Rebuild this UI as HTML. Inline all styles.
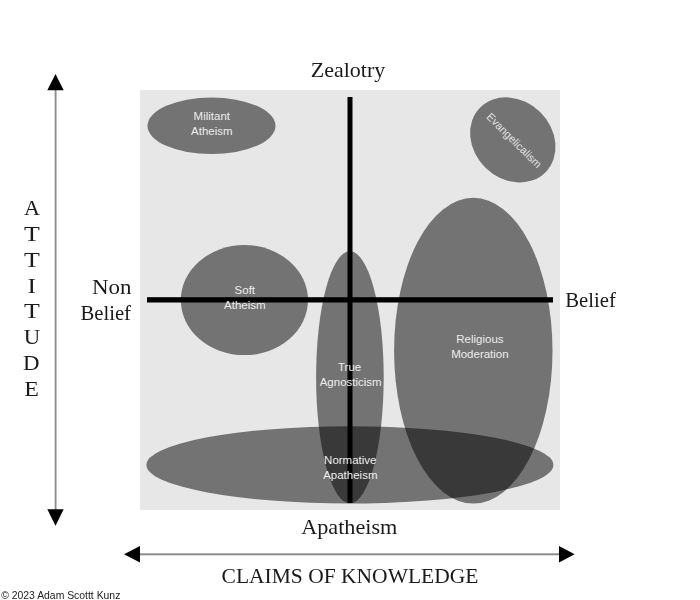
<!DOCTYPE html>
<html><head><meta charset="utf-8">
<style>
html,body{margin:0;padding:0;background:#fff;width:700px;height:600px;overflow:hidden}
svg{display:block;filter:grayscale(1)}
.serif{font-family:"Liberation Serif",serif;fill:#1a1a1a}
.lab{font-family:"Liberation Sans",sans-serif;fill:#ededed;font-size:11.5px;text-anchor:middle}
</style></head>
<body>
<svg width="700" height="600" viewBox="0 0 700 600">
<rect x="140" y="90" width="420" height="420" fill="#e7e7e7"/>
<rect x="147" y="297.2" width="406" height="5.3" fill="#000"/>
<rect x="347.5" y="97" width="5" height="406" fill="#000"/>
<g fill="#000" fill-opacity="0.5">
<ellipse cx="211.5" cy="125.8" rx="64" ry="28.3"/>
<ellipse cx="512.8" cy="139.9" rx="46" ry="39" transform="rotate(44.5 512.8 139.9)"/>
<ellipse cx="244.4" cy="300.1" rx="63.6" ry="55"/>
<ellipse cx="349.9" cy="377.3" rx="33.8" ry="126"/>
<ellipse cx="473.3" cy="350.7" rx="79.2" ry="152.9"/>
<ellipse cx="349.9" cy="464.9" rx="203.5" ry="38.6"/>
</g>
<g class="lab">
<text x="211.8" y="120">Militant</text>
<text x="211.8" y="134.6">Atheism</text>
<text x="244.8" y="294">Soft</text>
<text x="244.8" y="309.1">Atheism</text>
<text x="349.6" y="371">True</text>
<text x="350.7" y="386">Agnosticism</text>
<text x="479.9" y="342.6">Religious</text>
<text x="479.9" y="357.5">Moderation</text>
<text x="350.3" y="464.3">Normative</text>
<text x="350.3" y="478.6">Apatheism</text>
<text x="0" y="4" transform="translate(514.3 140.3) rotate(45)" font-size="11" textLength="72.5" lengthAdjust="spacingAndGlyphs" fill="#e0e0e0">Evangelicalism</text>
</g>
<g class="serif" font-size="21.5">
<text x="348" y="76.6" text-anchor="middle" textLength="74.4" lengthAdjust="spacingAndGlyphs">Zealotry</text>
<text x="131.5" y="293.9" text-anchor="end" textLength="39.5" lengthAdjust="spacingAndGlyphs">Non</text>
<text x="131" y="319.7" text-anchor="end" textLength="50.6" lengthAdjust="spacingAndGlyphs">Belief</text>
<text x="565.2" y="306.9" textLength="50.6" lengthAdjust="spacingAndGlyphs">Belief</text>
<text x="349.3" y="534.1" text-anchor="middle" textLength="96.2" lengthAdjust="spacingAndGlyphs">Apatheism</text>
<text x="350" y="583" text-anchor="middle">CLAIMS OF KNOWLEDGE</text>
</g>
<g class="serif" font-size="21.5" text-anchor="middle">
<text x="31.9" y="215" textLength="16" lengthAdjust="spacingAndGlyphs">A</text>
<text x="31.8" y="240.8" textLength="15.8" lengthAdjust="spacingAndGlyphs">T</text>
<text x="31.8" y="266.7" textLength="15.8" lengthAdjust="spacingAndGlyphs">T</text>
<text x="31.85" y="292.5" textLength="8.5" lengthAdjust="spacingAndGlyphs">I</text>
<text x="31.8" y="318.3" textLength="15.8" lengthAdjust="spacingAndGlyphs">T</text>
<text x="32.1" y="344.2" textLength="16.5" lengthAdjust="spacingAndGlyphs">U</text>
<text x="31.3" y="370" textLength="16.5" lengthAdjust="spacingAndGlyphs">D</text>
<text x="31.6" y="395.8" textLength="14.6" lengthAdjust="spacingAndGlyphs">E</text>
</g>
<!-- vertical arrow -->
<rect x="54.7" y="88" width="1.8" height="424" fill="#8c8c8c"/>
<polygon points="55.5,74 47.3,90.3 63.7,90.3" fill="#000"/>
<polygon points="55.5,525.7 47.3,509.3 63.7,509.3" fill="#000"/>
<!-- horizontal arrow -->
<rect x="138" y="553.3" width="423" height="2" fill="#8c8c8c"/>
<polygon points="124,554.3 140,546 140,562.6" fill="#000"/>
<polygon points="574.7,554.3 559,546 559,562.6" fill="#000"/>
<text x="1.2" y="598.6" font-family="Liberation Sans, sans-serif" font-size="10.4" fill="#222">© 2023 Adam Scottt Kunz</text>
</svg>
</body></html>
